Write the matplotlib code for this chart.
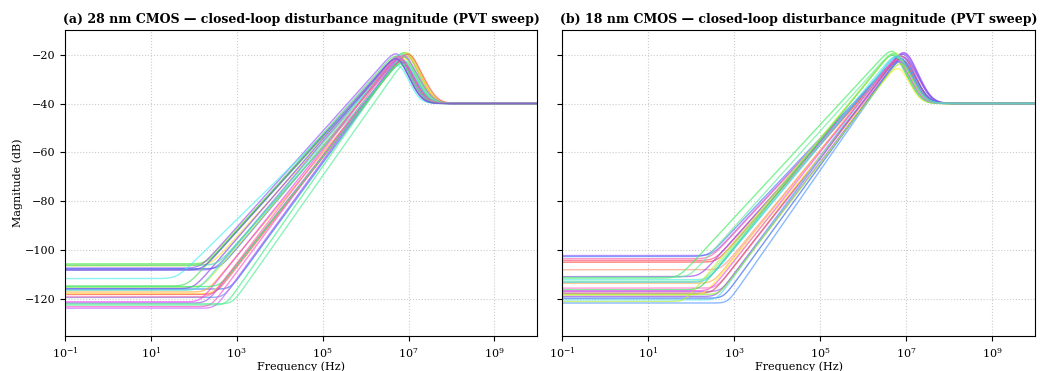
import numpy as np
import matplotlib
matplotlib.use("Agg")
import matplotlib.pyplot as plt
from matplotlib.ticker import NullLocator

# ---- values (per PVT corner) ----
# low-frequency floor (dB), corner frequency (log10 Hz), peak frequency (log10 Hz), peak (dB)
floor_28 = [-105.5, -106.0, -106.3, -107.2, -107.5, -108.0, -111.5, -114.5, -115.0, -115.6,
            -115.8, -116.3, -117.0, -117.7, -118.0, -119.2, -121.0, -121.5, -122.3, -123.0,
            -123.6, -106.0, -114.8, -121.8, -119.0, -108.0]
corner_28 = [2.30, 2.40, 2.20, 2.15, 2.60, 2.50, 1.60, 1.85, 2.20, 2.00,
             2.85, 2.10, 2.30, 2.45, 2.50, 2.70, 2.15, 2.30, 2.75, 2.40,
             2.50, 2.55, 2.60, 2.90, 2.40, 2.20]
fpeak_28 = [6.95, 7.00, 6.90, 6.75, 6.85, 6.80, 6.80, 6.75, 7.00, 6.75,
            6.85, 6.90, 7.00, 6.95, 7.02, 6.85, 6.80, 6.85, 6.90, 6.80,
            6.90, 6.95, 6.85, 6.95, 6.80, 6.75]
peak_28 = [-19.5, -20.0, -21.0, -20.0, -22.0, -21.0, -25.0, -21.0, -19.5, -22.0,
           -23.0, -20.0, -21.0, -22.0, -20.0, -22.0, -22.0, -23.0, -21.0, -22.0,
           -20.5, -23.0, -24.0, -24.0, -21.0, -22.0]

floor_18 = [-102.1, -102.5, -103.4, -104.1, -104.8, -107.9, -110.7, -111.3, -112.0, -112.7,
            -113.4, -115.4, -116.1, -116.8, -117.5, -118.2, -118.8, -119.5, -120.2, -120.9,
            -121.5, -111.0, -116.5, -118.0, -113.0]
corner_18 = [2.50, 2.40, 2.45, 2.55, 2.60, 2.70, 2.20, 1.70, 2.40, 2.30,
             2.50, 2.60, 2.20, 2.70, 2.50, 2.30, 2.60, 2.75, 2.60, 1.85,
             2.85, 1.95, 2.45, 2.65, 2.35]
fpeak_18 = [7.00, 6.95, 6.90, 6.95, 6.90, 6.85, 7.00, 6.72, 6.80, 6.75,
            6.85, 6.90, 6.72, 6.98, 6.90, 6.85, 6.95, 6.92, 6.80, 6.78,
            6.88, 6.75, 6.82, 6.90, 6.85]
peak_18 = [-20.0, -21.0, -22.0, -21.0, -22.0, -23.0, -19.5, -19.0, -21.0, -20.0,
           -22.0, -23.0, -20.5, -21.5, -22.0, -26.0, -20.0, -22.0, -21.0, -19.5,
           -23.0, -20.0, -22.5, -24.0, -21.0]

hf_level = -40.0  # high-frequency plateau (dB)

colors_28 = ["#44ee44", "#ffdd33", "#aaee33", "#9955ff", "#4466ee", "#8866ee", "#55eeee", "#55dd66",
             "#bbee44", "#8844ee", "#3377ee", "#55ddcc", "#ffaa33", "#ffee44", "#ff5544", "#5599ee",
             "#ee44ee", "#aa55ee", "#44ee88", "#ff55cc", "#cc66ff", "#44ddaa", "#33ee77", "#55ee99",
             "#ff66aa", "#6655dd"]
colors_18 = ["#9966ff", "#5577ff", "#ff66aa", "#ff5577", "#ff4444", "#ff9977", "#9944ee", "#44ee66",
             "#55eedd", "#88ee88", "#ffaa55", "#ff66cc", "#33dd55", "#aa55ee", "#cc5566", "#ffee33",
             "#8855ee", "#3366ee", "#55ddee", "#bbee44", "#5599ff", "#66ee99", "#ee55ee", "#99ee33",
             "#44ccee"]

freq = np.logspace(-1, 10, 2500)


def response(floor_db, corner, fpk, pk):
    lf = np.log10(freq)
    top = pk + 3.0
    ramp = floor_db + (top - floor_db) * (lf - corner) / (fpk - corner)
    x = freq / 10 ** fpk
    g = 1.0 / (1.0 + x ** 6)
    h = x ** 4 / (1.0 + x ** 4)
    # sharper knee between floor and ramp
    k = 2.5
    low = 10 * np.log10(10 ** (k * floor_db / 10) + 10 ** (k * ramp / 10)) / k
    p = 10 ** (floor_db / 10) + (10 ** (low / 10) - 10 ** (floor_db / 10)) * g + 10 ** (hf_level / 10) * h
    return 10 * np.log10(np.maximum(p, 1e-20))


plt.rcParams['font.family'] = 'DejaVu Serif'
fig, axes = plt.subplots(1, 2, figsize=(10.4, 3.71), dpi=100, sharey=True)
fig.subplots_adjust(left=0.0625, right=0.995, top=0.919, bottom=0.094, wspace=0.053)

panels = [
    (axes[0], "(a) 28 nm CMOS — closed-loop disturbance magnitude (PVT sweep)",
     floor_28, corner_28, fpeak_28, peak_28, colors_28),
    (axes[1], "(b) 18 nm CMOS — closed-loop disturbance magnitude (PVT sweep)",
     floor_18, corner_18, fpeak_18, peak_18, colors_18),
]

for ax, title, fl, co, fp, pk, cols in panels:
    for i in range(len(fl)):
        ax.semilogx(freq, response(fl[i], co[i], fp[i], pk[i]), color=cols[i], lw=1.0, alpha=0.68)
    ax.set_xlim(1e-1, 1e10)
    ax.set_ylim(-135, -10)
    ax.set_xticks([1e-1, 1e1, 1e3, 1e5, 1e7, 1e9])
    ax.xaxis.set_minor_locator(NullLocator())
    ax.set_yticks([-120, -100, -80, -60, -40, -20])
    ax.grid(True, linestyle=':', color='#cccccc', linewidth=0.8)
    ax.set_title(title, fontsize=9, fontweight='bold', pad=5)
    ax.set_xlabel("Frequency (Hz)", fontsize=8, labelpad=1)
    ax.tick_params(labelsize=8, length=3.5)

axes[0].set_ylabel("Magnitude (dB)", fontsize=8, labelpad=1)

fig.savefig("out.png", dpi=100)
